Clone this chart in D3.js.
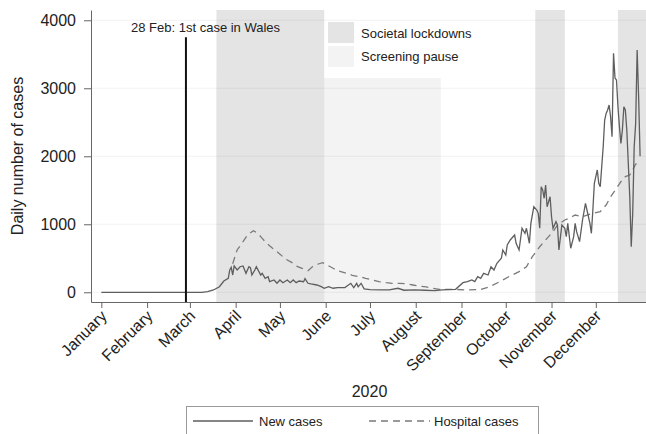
<!DOCTYPE html>
<html>
<head>
<meta charset="utf-8">
<script src="https://cdn.jsdelivr.net/npm/d3@7"></script>
<style>
  body { margin: 0; background: #fff; }
  svg { display: block; font-family: "Liberation Sans", Arial, sans-serif; }
</style>
</head>
<body>
<svg id="chart"></svg>
<script>
// daily new cases
const newDates = ['01-01','02-01','03-01','03-09','03-13','03-17','03-21','03-24','03-27','03-28','03-29','03-30','03-31',
  '04-02','04-04','04-06','04-08','04-10','04-11','04-12','04-14','04-15','04-18','04-19','04-21','04-23','04-24','04-27','04-29',
  '05-01','05-03','05-06','05-08','05-10','05-12','05-14','05-17','05-18','05-20','05-22','05-26','05-29','05-31',
  '06-03','06-06','06-09','06-14','06-18','06-20','06-22','06-23','06-25','06-27',
  '07-01','07-08','07-14','07-20','07-24','07-31','08-07','08-14','08-19','08-24','08-28',
  '09-02','09-05','09-08','09-10','09-12','09-14','09-16','09-19','09-21','09-23','09-25','09-28','09-29',
  '10-01','10-02','10-04','10-07','10-08','10-10','10-12','10-14','10-15','10-17','10-18','10-20','10-22','10-23','10-24','10-25','10-26','10-27','10-28','10-29','10-31',
  '11-01','11-02','11-04','11-05','11-06','11-08','11-10','11-11','11-12','11-14','11-16','11-17','11-18','11-20','11-22','11-24','11-25','11-27','11-28','11-29','11-30',
  '12-01','12-02','12-03','12-04','12-06','12-07','12-08','12-09','12-10','12-11','12-12','12-13','12-14','12-15','12-16','12-17','12-18','12-19','12-20',
  '12-21','12-22','12-23','12-24','12-25','12-26','12-27','12-28','12-29','12-30','12-31'];
const newValues = [0,0,0,0,10,34,82,166,206,328,367,254,387,
  328,376,387,279,376,362,254,328,376,254,279,206,229,156,181,132,
  181,141,181,141,181,141,166,156,200,132,122,107,82,59,
  82,59,68,70,132,70,132,80,132,50,
  40,35,35,59,30,35,30,25,34,40,44,
  141,156,181,156,229,206,279,254,376,328,426,500,622,
  548,695,769,842,720,622,941,867,941,720,1014,1258,1210,1161,941,1552,1504,1382,1577,1258,1405,
  1111,941,1038,989,622,989,941,818,1014,647,818,1014,891,744,1063,1308,1210,1014,867,1210,1602,
  1700,1798,1602,1552,2140,2533,2631,2680,2754,2582,2288,3513,3150,3121,2729,2435,2190,2386,2729,
  2680,2386,1896,1405,670,1161,2140,2484,3562,2875,2000];

// hospital cases
const hospDates = ['03-30','04-02','04-06','04-09','04-13','04-16','04-19','04-22','04-26','04-29',
  '05-03','05-06','05-10','05-13','05-16','05-20','05-23','05-27','05-30','06-02','06-06','06-10','06-15','06-19','06-24','06-28',
  '07-03','07-07','07-12','07-16','07-21','07-25','07-30','08-03','08-08','08-12','08-17','08-26','09-04','09-11','09-13','09-20','09-27',
  '10-03','10-10','10-15','10-19','10-24','10-28','11-02','11-05','11-10','11-13','11-17','11-22','11-25','11-29',
  '12-04','12-08','12-11','12-15','12-18','12-21','12-24','12-26','12-28','12-31'];
const hospValues = [420,622,744,842,906,867,793,720,647,597,
  523,475,426,376,353,318,376,416,435,401,353,310,279,250,229,206,
  181,156,141,132,132,125,107,93,78,59,44,44,34,38,34,82,156,
  229,303,376,523,670,769,891,989,1063,1088,1136,1111,1136,1161,
  1185,1283,1405,1529,1626,1700,1724,1798,1886,1896];

// shaded periods
const lockdowns = [['03-19','05-31'], ['10-21','11-10'], ['12-16', null]];
const pause = ['03-19','08-18', 3150];

const monthTicks = ['01-01','02-01','03-01','04-01','05-01','06-01','07-01','08-01','09-01','10-01','11-01','12-01'];
const yTicks = [0, 1000, 2000, 3000, 4000];
const firstCase = ['02-28', 3750, '28 Feb: 1st case in Wales'];

const width = 646, height = 434;
const plotL = 91, plotR = 646, plotT = 10, plotB = 302;

const parse = d3.timeParse('%Y-%m-%d');
const day = s => parse('2020-' + s);

const svg = d3.select('#chart').attr('width', width).attr('height', height);

const x = d3.scaleTime()
  .domain([parse('2019-12-25'), parse('2021-01-04')])
  .range([plotL, plotR]);
const y = d3.scaleLinear().domain([-143, 4151]).range([plotB, plotT]);

const shadeDark = '#e4e4e4', shadeLight = '#f3f3f3';

// screening pause
svg.append('rect')
  .attr('x', x(day(pause[0])))
  .attr('y', y(pause[2]))
  .attr('width', x(day(pause[1])) - x(day(pause[0])))
  .attr('height', plotB - y(pause[2]))
  .attr('fill', shadeLight);

// lockdowns
svg.selectAll('rect.lock').data(lockdowns).enter().append('rect')
  .attr('class', 'lock')
  .attr('x', d => x(day(d[0])))
  .attr('y', plotT)
  .attr('width', d => (d[1] ? x(day(d[1])) : plotR) - x(day(d[0])))
  .attr('height', plotB - plotT)
  .attr('fill', shadeDark);

// grid
svg.selectAll('line.grid').data(yTicks).enter().append('line')
  .attr('x1', plotL).attr('x2', plotR)
  .attr('y1', d => y(d)).attr('y2', d => y(d))
  .attr('stroke', 'rgba(0,0,0,0.05)');

// lines
const line = d3.line().x(d => x(d[0])).y(d => y(d[1]));
const newData = newDates.map((d, i) => [day(d), newValues[i]]);
const hospData = hospDates.map((d, i) => [day(d), hospValues[i]]);

svg.append('path').datum(hospData)
  .attr('d', line)
  .attr('fill', 'none')
  .attr('stroke', '#7a7a7a')
  .attr('stroke-width', 1.3)
  .attr('stroke-dasharray', '7,5');

svg.append('path').datum(newData)
  .attr('d', line)
  .attr('fill', 'none')
  .attr('stroke', '#5e5e5e')
  .attr('stroke-width', 1.3);

// first case marker
svg.append('line')
  .attr('x1', x(day(firstCase[0])) - 1).attr('x2', x(day(firstCase[0])) - 1)
  .attr('y1', plotB).attr('y2', y(firstCase[1]))
  .attr('stroke', '#111').attr('stroke-width', 2);
svg.append('text')
  .attr('x', 131).attr('y', 32)
  .attr('font-size', 13).attr('fill', '#222')
  .text(firstCase[2]);

// axes
const yAxis = svg.append('g')
  .attr('transform', `translate(${plotL},0)`)
  .call(d3.axisLeft(y).tickValues(yTicks).tickFormat(d3.format('d')).tickSize(7).tickPadding(8).tickSizeOuter(0));
yAxis.select('.domain').attr('stroke', '#666');
yAxis.selectAll('.tick line').attr('stroke', '#666');
yAxis.selectAll('text').attr('font-size', 16).attr('fill', '#222').attr('font-family', null);

const xAxis = svg.append('g')
  .attr('transform', `translate(0,${plotB})`)
  .call(d3.axisBottom(x).tickValues(monthTicks.map(day)).tickFormat(d3.timeFormat('%B')).tickSize(6).tickSizeOuter(0));
xAxis.select('.domain').attr('stroke', '#666');
xAxis.selectAll('.tick line').attr('stroke', '#666');
xAxis.selectAll('text')
  .attr('font-size', 16).attr('fill', '#222').attr('font-family', null)
  .attr('text-anchor', 'end')
  .attr('dy', null).attr('y', 0)
  .attr('transform', 'translate(6,15) rotate(-45)');

svg.append('text')
  .attr('transform', `translate(23,${(plotT + plotB) / 2}) rotate(-90)`)
  .attr('text-anchor', 'middle')
  .attr('font-size', 16).attr('fill', '#222')
  .text('Daily number of cases');

svg.append('text')
  .attr('x', (plotL + plotR) / 2 + 1).attr('y', 397)
  .attr('text-anchor', 'middle')
  .attr('font-size', 16).attr('fill', '#222')
  .text('2020');

// shading legend
const shadeLegend = [['Societal lockdowns', shadeDark], ['Screening pause', shadeLight]];
shadeLegend.forEach((d, i) => {
  svg.append('rect').attr('x', 328).attr('y', 22 + i * 24).attr('width', 26).attr('height', 21).attr('fill', d[1]);
  svg.append('text').attr('x', 361).attr('y', 38 + i * 23).attr('font-size', 13).attr('fill', '#222').text(d[0]);
});

// bottom legend
svg.append('rect')
  .attr('x', 186.5).attr('y', 406.5).attr('width', 352).attr('height', 40)
  .attr('fill', 'none').attr('stroke', '#999');
svg.append('line').attr('x1', 193).attr('x2', 253).attr('y1', 421).attr('y2', 421)
  .attr('stroke', '#5e5e5e').attr('stroke-width', 1.3);
svg.append('text').attr('x', 259).attr('y', 425.5).attr('font-size', 13).attr('fill', '#222').text('New cases');
svg.append('line').attr('x1', 369).attr('x2', 430).attr('y1', 421).attr('y2', 421)
  .attr('stroke', '#7a7a7a').attr('stroke-width', 1.3).attr('stroke-dasharray', '7,5');
svg.append('text').attr('x', 434).attr('y', 425.5).attr('font-size', 13).attr('fill', '#222').text('Hospital cases');
</script>
</body>
</html>
